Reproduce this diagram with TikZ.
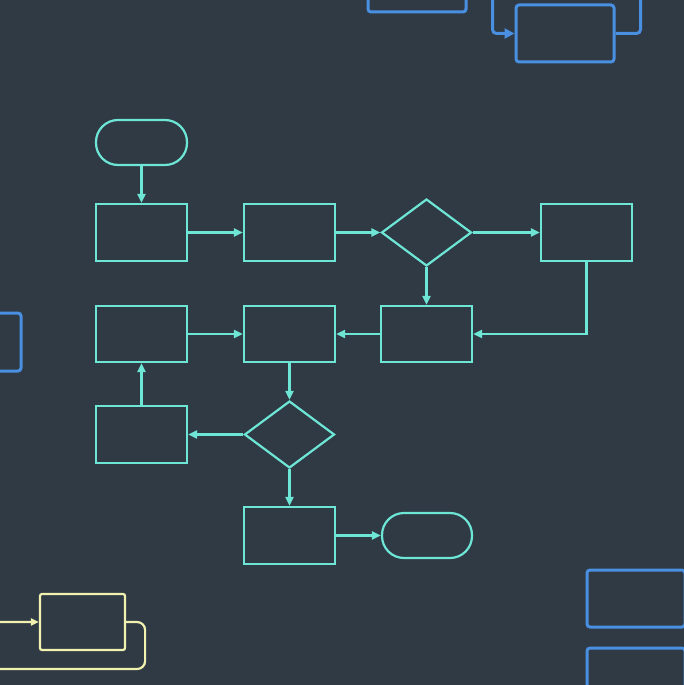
\documentclass[tikz,border=0pt]{standalone}
\usetikzlibrary{shapes.geometric,arrows.meta}
\definecolor{bg}{HTML}{2F3A45}
\definecolor{cy}{HTML}{6EE6D6}
\definecolor{bl}{HTML}{4A90E2}
\definecolor{ye}{HTML}{F2F2B0}
\begin{document}
\begin{tikzpicture}[x=1pt,y=-1pt,
  proc/.style={draw=cy,line width=2.2pt,rectangle,inner sep=0pt,minimum width=91pt,minimum height=57pt},
  term/.style={draw=cy,line width=2.2pt,rectangle,rounded corners=22pt,inner sep=0pt,minimum width=91pt,minimum height=45pt},
  dec/.style={draw=cy,line width=2.2pt,diamond,inner sep=0pt,minimum width=90pt,minimum height=67pt},
  flow/.style={draw=cy,line width=2.2pt,-{Triangle[length=9pt,width=8pt]}},
  bbox/.style={draw=bl,line width=3pt,rectangle,rounded corners=3pt,inner sep=0pt,minimum width=98pt,minimum height=57pt},
  bflow/.style={draw=bl,line width=3pt,rounded corners=4pt,-{Triangle[length=10pt,width=10pt]}},
  ybox/.style={draw=ye,line width=2.2pt,rectangle,rounded corners=2pt,inner sep=0pt,minimum width=85pt,minimum height=56pt},
  yflow/.style={draw=ye,line width=2.2pt,rounded corners=8pt,-{Triangle[length=8pt,width=7pt]}}]
\fill[bg] (0,0) rectangle (684,685);
\useasboundingbox (0,0) rectangle (684,685);
\clip (0,0) rectangle (684,685);
% main flowchart
\node[term] (start) at (141.5,142.5) {};
\node[proc] (a1) at (141.5,232.5) {};
\node[proc] (a2) at (289.5,232.5) {};
\node[dec]  (d1) at (426.5,232.5) {};
\node[proc] (a3) at (586.5,232.5) {};
\node[proc,minimum height=56pt] (b3) at (426.5,334) {};
\node[proc,minimum height=56pt] (b2) at (289.5,334) {};
\node[proc,minimum height=56pt] (b1) at (141.5,334) {};
\node[proc] (c1) at (141.5,434.5) {};
\node[dec]  (d2) at (289.5,434.5) {};
\node[proc] (e)  at (289.5,535.5) {};
\node[term,minimum width=90pt] (end) at (427,535.5) {};
\draw[flow] (start) -- (a1);
\draw[flow] (a1) -- (a2);
\draw[flow] (a2) -- (d1);
\draw[flow] (d1) -- (a3);
\draw[flow] (d1) -- (b3);
\draw[flow] (a3.south) |- (b3.east);
\draw[flow] (b3) -- (b2);
\draw[flow] (b1) -- (b2);
\draw[flow] (b2) -- (d2);
\draw[flow] (d2) -- (c1);
\draw[flow] (c1) -- (b1);
\draw[flow] (d2) -- (e);
\draw[flow] (e) -- (end);
% blue boxes
\node[bbox] (t1) at (417,-16.5) {};
\node[bbox] (t2) at (565,33.5) {};
\node[bbox,minimum height=58pt] (lb) at (-28,342) {};
\node[bbox] (r1) at (636,598.5) {};
\node[bbox] (r2) at (636,676.5) {};
\draw[bflow] (t2.east) -- ++(25,0) -- ++(0,-70) -- ++(-148,0) -- ++(0,70) -- (t2.west);
% yellow box
\node[ybox] (y1) at (82.5,622) {};
\draw[yflow] (y1.east) -- ++(19,0) -- ++(0,47) -- ++(-200,0) -- ++(0,-47) -- (y1.west);
\end{tikzpicture}
\end{document}
